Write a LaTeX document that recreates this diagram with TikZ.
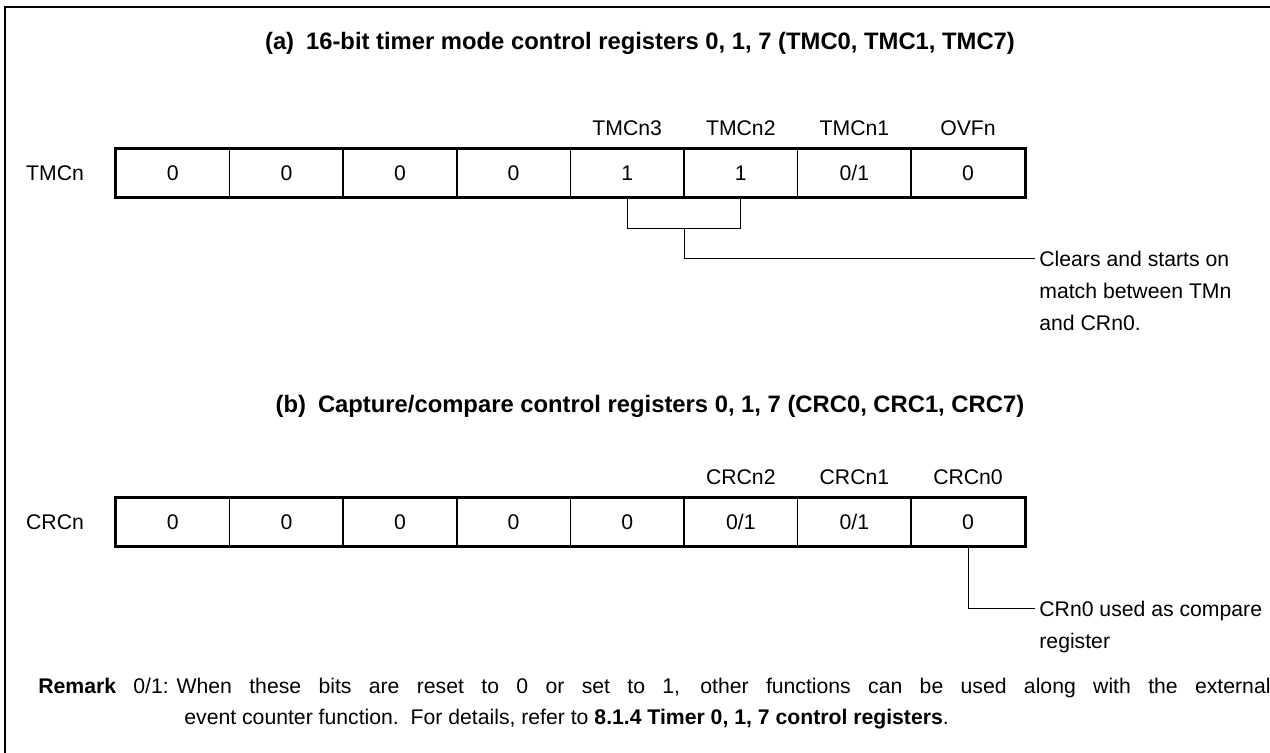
\documentclass[tikz,border=0pt]{standalone}
\usepackage{fontspec}
\setmainfont{Liberation Sans}
\usetikzlibrary{positioning}

\tikzset{
  bitcell/.style={draw, line width=0.75pt, minimum width=56.8pt, minimum height=24pt, inner sep=0pt},
  regframe/.style={line width=1.5pt},
  leader/.style={line width=0.5pt},
  bitname/.style={above=2.5pt of #1},
  heading/.style={font=\fontsize{11.9}{16}\selectfont\bfseries},
}

\begin{document}
\begin{tikzpicture}[x=0.5pt, y=-0.5pt, font=\fontsize{10.6}{16}\selectfont]
    \useasboundingbox (0,0) rectangle (1270,753);
    \clip (0,0) rectangle (1270,753);
    \draw[line width=0.6pt] (5,7) rectangle (1300,790);

    % (a) timer mode control register
    \node[heading] (ttla) at (640,43) {(a)\enspace 16-bit timer mode control registers 0, 1, 7 (TMC0, TMC1, TMC7)};
    \node (tmcn) at (55,173) {TMCn};
    \foreach \v [count=\i from 0] in {0,0,0,0,1,1,{0/1},0}
      \node[bitcell] (t\i) at ({116+(\i+0.5)*113.6},173) {\v};
    \draw[regframe] (t0.north west) rectangle (t7.south east);
    \foreach \n/\i in {TMCn3/4, TMCn2/5, TMCn1/6, OVFn/7}
      \node[bitname=t\i] (tn\i) {\n};

    \draw[leader] (t4.south) -- ++(0,31) -| coordinate[pos=0.25] (tb) (t5.south);
    \coordinate (tin) at (1035,259);
    \draw[leader] (tb) |- (tin);
    \node[anchor=north west, align=left, inner sep=0pt] (tnote) at (1039,251) {Clears and starts on\\ match between TMn\\ and CRn0.};

    % (b) capture/compare control register
    \node[heading] (ttlb) at (650,406) {(b)\enspace Capture/compare control registers 0, 1, 7 (CRC0, CRC1, CRC7)};
    \node (crcn) at (55,522) {CRCn};
    \foreach \v [count=\i from 0] in {0,0,0,0,0,{0/1},{0/1},0}
      \node[bitcell] (c\i) at ({116+(\i+0.5)*113.6},522) {\v};
    \draw[regframe] (c0.north west) rectangle (c7.south east);
    \foreach \n/\i in {CRCn2/5, CRCn1/6, CRCn0/7}
      \node[bitname=c\i] (cn\i) {\n};

    \coordinate (cin) at (1035,609);
    \draw[leader] (c7.south) |- (cin);
    \node[anchor=north west, align=left, inner sep=0pt] (cnote) at (1039,601) {CRn0 used as compare\\ register};

    % remark
    \node[anchor=base west, inner sep=0pt, font=\fontsize{10.6}{16}\selectfont\bfseries] (rmk) at (38,693) {Remark};
    \node[anchor=base west, inner sep=0pt] (rl1) at (133,693) {0/1: \makebox[547pt][s]{When these bits are reset to 0 or set to 1, other functions can be used along with the external}};
    \node[anchor=base west, inner sep=0pt] (rl2) at (184,724) {event counter function.\ \ For details, refer to \textbf{8.1.4 Timer 0, 1, 7 control registers}.};
  \end{tikzpicture}
\end{document}
